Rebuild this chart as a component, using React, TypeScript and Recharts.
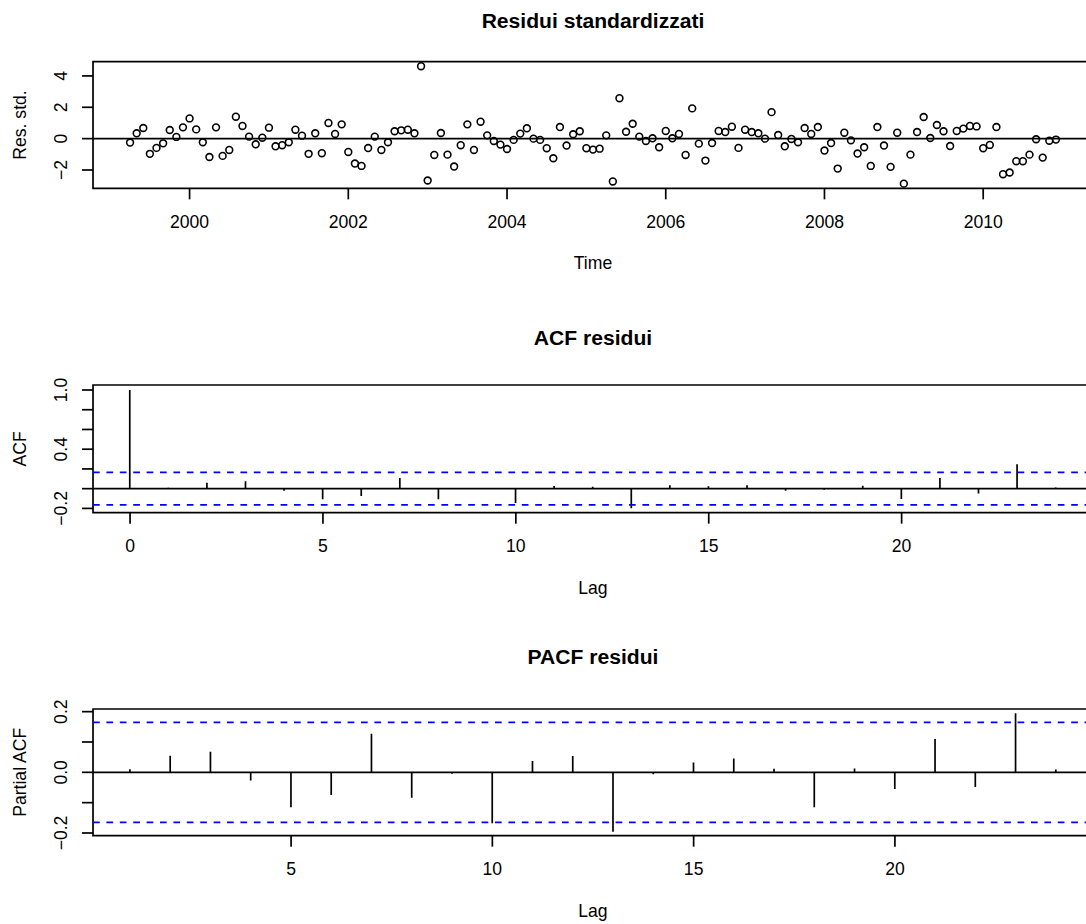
import React from 'react';
import { ComposedChart, Scatter, Bar, XAxis, YAxis, ReferenceLine, ReferenceArea } from 'recharts';

const FONT = '"Liberation Sans", Arial, Helvetica, sans-serif';
const FS = 17.6;
const TITLE_FS = 21.1;
const LW = 1.7;

// Standardized residuals, monthly series starting April 1999
const startYear = 1999;
const startMonth = 4;
const residuals = [
  -0.25, 0.34, 0.68, -0.97, -0.59, -0.30, 0.55, 0.11, 0.72, 1.29,
  0.59, -0.23, -1.17, 0.72, -1.10, -0.72, 1.40, 0.81, 0.13, -0.36,
  0.06, 0.70, -0.49, -0.42, -0.23, 0.57, 0.19, -0.97, 0.34, -0.93,
  1.00, 0.30, 0.91, -0.85, -1.59, -1.74, -0.60, 0.13, -0.72, -0.23,
  0.47, 0.53, 0.57, 0.34, 4.62, -2.67, -1.04, 0.36, -1.02, -1.78,
  -0.42, 0.91, -0.72, 1.08, 0.21, -0.15, -0.38, -0.66, -0.08, 0.32,
  0.66, 0.00, -0.08, -0.61, -1.25, 0.74, -0.44, 0.28, 0.47, -0.61,
  -0.70, -0.64, 0.21, -2.73, 2.58, 0.44, 0.95, 0.13, -0.15, 0.02,
  -0.55, 0.49, 0.02, 0.30, -1.04, 1.93, -0.32, -1.40, -0.28, 0.49,
  0.42, 0.76, -0.59, 0.57, 0.42, 0.34, 0.00, 1.69, 0.23, -0.49,
  -0.02, -0.23, 0.68, 0.30, 0.74, -0.76, -0.28, -1.91, 0.38, -0.11,
  -0.95, -0.55, -1.74, 0.74, -0.44, -1.80, 0.38, -2.87, -1.02, 0.42,
  1.38, 0.04, 0.87, 0.47, -0.47, 0.49, 0.64, 0.81, 0.78, -0.61,
  -0.40, 0.74, -2.27, -2.16, -1.44, -1.44, -1.02, -0.04, -1.21, -0.13,
  -0.06,
];
const yearTicks = [2000, 2002, 2004, 2006, 2008, 2010];
const resTicks = [-2, 0, 2, 4];
const resXDomain = [1998.7833, 2011.3833];
const resYDomain = [-3.17, 4.91];

const acfLags = [0, 1, 2, 3, 4, 5, 6, 7, 8, 9, 10, 11, 12, 13, 14, 15, 16, 17, 18, 19, 20, 21, 22, 23, 24];
const acfValues = [1.0, 0.01, 0.061, 0.074, -0.02, -0.108, -0.074, 0.108, -0.108, 0.006, -0.145, 0.027, 0.02, -0.199, 0.034, 0.024, 0.034, -0.02, -0.012, 0.03, -0.105, 0.108, -0.05, 0.247, 0.013];
const acfXTicks = [0, 5, 10, 15, 20];
const acfYTicks = [-0.2, 0, 0.2, 0.4, 0.6, 0.8, 1.0];
const acfYLabels = [-0.2, 0.4, 1.0];
const acfXDomain = [-0.96, 24.96];
const acfYDomain = [-0.2432, 1.0507];

const pacfLags = [1, 2, 3, 4, 5, 6, 7, 8, 9, 10, 11, 12, 13, 14, 15, 16, 17, 18, 19, 20, 21, 22, 23, 24];
const pacfValues = [0.01, 0.055, 0.068, -0.027, -0.115, -0.075, 0.127, -0.084, -0.005, -0.168, 0.037, 0.054, -0.196, -0.006, 0.032, 0.046, 0.012, -0.115, 0.013, -0.055, 0.11, -0.048, 0.195, 0.009];
const pacfXTicks = [5, 10, 15, 20];
const pacfYTicks = [-0.2, -0.1, 0, 0.1, 0.2];
const pacfYLabels = [-0.2, 0, 0.2];
const pacfXDomain = [0.08, 24.92];
const pacfYDomain = [-0.2088, 0.2088];

const confLimit = 0.165;

const resData = residuals.map((v, i) => ({ t: startYear + (startMonth - 1 + i) / 12, v }));
const acfData = acfLags.map((lag, i) => ({ lag, acf: acfValues[i] }));
const pacfData = pacfLags.map((lag, i) => ({ lag, pacf: pacfValues[i] }));

const fmt = (v: number, digits: number) => {
  const s = Math.abs(v).toFixed(digits);
  return v < -1e-9 ? '\u2212' + s : s;
};

const XTick = (props: any) => {
  const { x, y, payload } = props;
  return (
    <text x={x} y={y + 28.5} textAnchor="middle" fontFamily={FONT} fontSize={FS} fill="#000">
      {String(payload.value)}
    </text>
  );
};

const makeYTick = (labels: number[] | null, digits: number) => (props: any) => {
  const { x, y, payload } = props;
  const v = payload.value as number;
  if (labels && !labels.some((l) => Math.abs(l - v) < 1e-9)) return <g />;
  const bx = x - 15.3;
  return (
    <text x={bx} y={y} transform={`rotate(-90, ${bx}, ${y})`} textAnchor="middle" fontFamily={FONT} fontSize={FS} fill="#000">
      {fmt(v, digits)}
    </text>
  );
};

const xTitle = (text: string) => (props: any) => {
  const vb = props.viewBox || {};
  return (
    <text x={vb.x + vb.width / 2} y={vb.y + 81} textAnchor="middle" fontFamily={FONT} fontSize={FS} fill="#000">
      {text}
    </text>
  );
};

const yTitle = (text: string) => (props: any) => {
  const vb = props.viewBox || {};
  const cx = 26;
  const cy = vb.y + vb.height / 2;
  return (
    <text x={cx} y={cy} transform={`rotate(-90, ${cx}, ${cy})`} textAnchor="middle" fontFamily={FONT} fontSize={FS} fill="#000">
      {text}
    </text>
  );
};

const OpenCircle = (props: any) => (
  <circle cx={props.cx} cy={props.cy} r={3.4} fill="none" stroke="#000" strokeWidth={1.6} />
);

const Spike = (props: any) => {
  const { x, y, width, height } = props;
  if (x == null || y == null) return <g />;
  const cx = x + width / 2;
  return <line x1={cx} x2={cx} y1={y} y2={y + height} stroke="#000" strokeWidth={LW} />;
};

const tickLine = { stroke: '#000', strokeWidth: LW };

const CHART_W = 1100;

export default function App() {
  return (
    <div style={{ position: 'absolute', left: 0, top: 0, width: 1086, height: 924, overflow: 'hidden', background: '#fff' }}>
      {/* Panel 1: standardized residuals */}
      <div style={{ position: 'absolute', left: 0, top: 0 }}>
        <ComposedChart width={CHART_W} height={61.67 + 126.67 + 100} margin={{ top: 61.67, right: 7, bottom: 0, left: 0 }}>
          <XAxis
            type="number" dataKey="t" domain={resXDomain} allowDataOverflow ticks={yearTicks} interval={0}
            height={100} axisLine={false} tickLine={tickLine} tickSize={11} tickMargin={0} tick={XTick}
            label={{ content: xTitle('Time') }}
          />
          <YAxis
            type="number" dataKey="v" domain={resYDomain} allowDataOverflow ticks={resTicks} interval={0}
            width={93} axisLine={false} tickLine={tickLine} tickSize={11} tickMargin={0} tick={makeYTick(null, 0)}
            label={{ content: yTitle('Res. std.') }}
          />
          <ReferenceArea x1={resXDomain[0]} x2={resXDomain[1]} y1={resYDomain[0]} y2={resYDomain[1]} fill="none" fillOpacity={0} stroke="#000" strokeWidth={LW} />
          <ReferenceLine y={0} stroke="#000" strokeWidth={LW} />
          <Scatter data={resData} dataKey="v" shape={OpenCircle} isAnimationActive={false} />
        </ComposedChart>
      </div>

      {/* Panel 2: ACF */}
      <div style={{ position: 'absolute', left: 0, top: 308 }}>
        <ComposedChart width={CHART_W} height={77 + 127.67 + 100} data={acfData} margin={{ top: 77, right: 7, bottom: 0, left: 0 }}>
          <XAxis
            type="number" dataKey="lag" domain={acfXDomain} allowDataOverflow ticks={acfXTicks} interval={0}
            height={100} axisLine={false} tickLine={tickLine} tickSize={11} tickMargin={0} tick={XTick}
            label={{ content: xTitle('Lag') }}
          />
          <YAxis
            type="number" domain={acfYDomain} allowDataOverflow ticks={acfYTicks} interval={0}
            width={93} axisLine={false} tickLine={tickLine} tickSize={11} tickMargin={0} tick={makeYTick(acfYLabels, 1)}
            label={{ content: yTitle('ACF') }}
          />
          <ReferenceArea x1={acfXDomain[0]} x2={acfXDomain[1]} y1={acfYDomain[0]} y2={acfYDomain[1]} fill="none" fillOpacity={0} stroke="#000" strokeWidth={LW} />
          <ReferenceLine y={0} stroke="#000" strokeWidth={LW} />
          <ReferenceLine y={confLimit} stroke="#0000FF" strokeWidth={LW} strokeDasharray="6.7 6.7" />
          <ReferenceLine y={-confLimit} stroke="#0000FF" strokeWidth={LW} strokeDasharray="6.7 6.7" />
          <Bar dataKey="acf" barSize={2} shape={Spike} isAnimationActive={false} />
        </ComposedChart>
      </div>

      {/* Panel 3: PACF */}
      <div style={{ position: 'absolute', left: 0, top: 616 }}>
        <ComposedChart width={CHART_W} height={93 + 126.67 + 88} data={pacfData} margin={{ top: 93, right: 7, bottom: 0, left: 0 }}>
          <XAxis
            type="number" dataKey="lag" domain={pacfXDomain} allowDataOverflow ticks={pacfXTicks} interval={0}
            height={88} axisLine={false} tickLine={tickLine} tickSize={11} tickMargin={0} tick={XTick}
            label={{ content: xTitle('Lag') }}
          />
          <YAxis
            type="number" domain={pacfYDomain} allowDataOverflow ticks={pacfYTicks} interval={0}
            width={93} axisLine={false} tickLine={tickLine} tickSize={11} tickMargin={0} tick={makeYTick(pacfYLabels, 1)}
            label={{ content: yTitle('Partial ACF') }}
          />
          <ReferenceArea x1={pacfXDomain[0]} x2={pacfXDomain[1]} y1={pacfYDomain[0]} y2={pacfYDomain[1]} fill="none" fillOpacity={0} stroke="#000" strokeWidth={LW} />
          <ReferenceLine y={0} stroke="#000" strokeWidth={LW} />
          <ReferenceLine y={confLimit} stroke="#0000FF" strokeWidth={LW} strokeDasharray="6.7 6.7" />
          <ReferenceLine y={-confLimit} stroke="#0000FF" strokeWidth={LW} strokeDasharray="6.7 6.7" />
          <Bar dataKey="pacf" barSize={2} shape={Spike} isAnimationActive={false} />
        </ComposedChart>
      </div>

      {/* Main titles */}
      <svg style={{ position: 'absolute', left: 0, top: 0, pointerEvents: 'none' }} width={1086} height={924}>
        <text x={593} y={27.6} textAnchor="middle" fontFamily={FONT} fontSize={TITLE_FS} fontWeight="bold" fill="#000">Residui standardizzati</text>
        <text x={593} y={344.6} textAnchor="middle" fontFamily={FONT} fontSize={TITLE_FS} fontWeight="bold" fill="#000">ACF residui</text>
        <text x={593} y={663.6} textAnchor="middle" fontFamily={FONT} fontSize={TITLE_FS} fontWeight="bold" fill="#000">PACF residui</text>
      </svg>
    </div>
  );
}
